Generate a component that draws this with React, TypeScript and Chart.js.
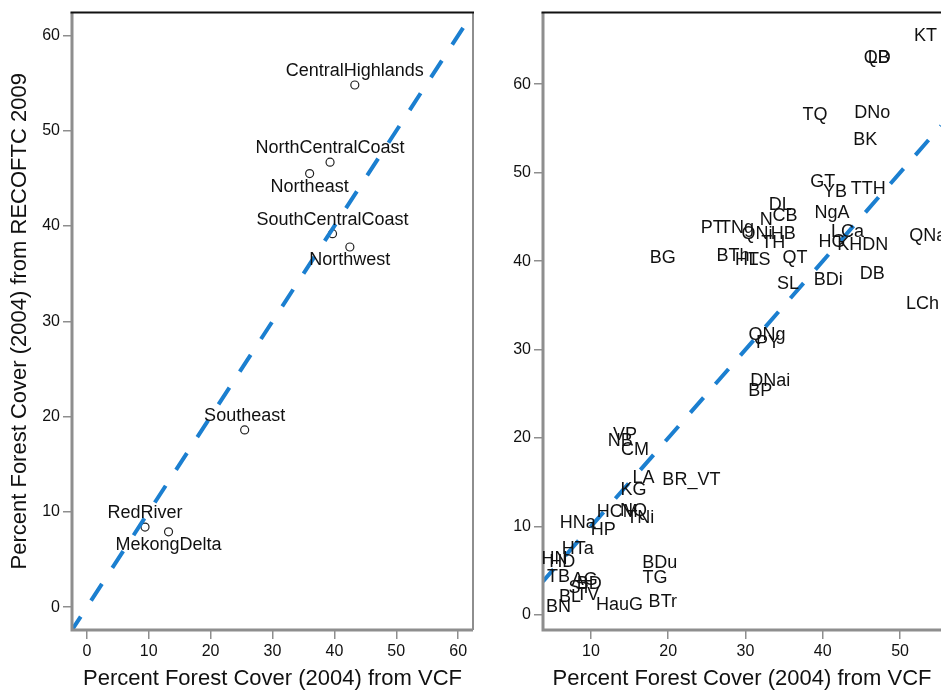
import React, { useEffect, useRef } from 'react';
import { Chart, registerables } from 'chart.js';
Chart.register(...registerables);

const FONT = '"Liberation Sans", Arial, Helvetica, sans-serif';

// ---- Left panel: regions ----
const regionNames = ['CentralHighlands', 'NorthCentralCoast', 'Northeast', 'SouthCentralCoast', 'Northwest', 'Southeast', 'RedRiver', 'MekongDelta'];
const regionVCF = [43.3, 39.3, 36.0, 39.7, 42.5, 25.5, 9.4, 13.2];
const regionRECOFTC = [54.8, 46.7, 45.5, 39.2, 37.8, 18.6, 8.4, 7.9];
const regionLabelSide = ['above', 'above', 'below', 'above', 'below', 'above', 'above', 'below'];

// ---- Right panel: provinces ----
const provinceNames = [
  'KT', 'QB', 'LD', 'TQ', 'DNo', 'BK', 'GT', 'YB', 'TTH', 'NgA',
  'DL', 'CB', 'N', 'PT', 'TNg', 'QNi', 'HB', 'TH', 'BTh', 'HT',
  'LS', 'QT', 'SL', 'BDi', 'DB', 'LCh', 'QNa', 'LCa', 'HG', 'KH',
  'DN', 'BG', 'QNg', 'PY', 'DNai', 'BP', 'VP', 'NB', 'CM', 'LA',
  'BR_VT', 'KG', 'HCM', 'NQ', 'TNi', 'HNa', 'HP', 'HTa', 'HN', 'HD',
  'TB', 'AG', 'BD', 'ST', 'BL', 'TV', 'BN', 'HauG', 'BDu', 'TG', 'BTr'
];
const provinceVCF = [
  53.3, 47.0, 47.3, 39.0, 46.4, 45.5, 40.0, 41.6, 45.9, 41.2,
  34.5, 35.1, 32.7, 25.7, 28.9, 31.5, 34.9, 33.6, 28.4, 30.2,
  31.8, 36.4, 35.5, 40.7, 46.4, 52.9, 53.6, 43.2, 41.2, 43.5,
  46.8, 19.3, 32.8, 32.9, 33.2, 31.9, 14.4, 13.8, 15.7, 16.8,
  23.0, 15.5, 13.4, 15.5, 16.4, 8.3, 11.6, 8.3, 5.3, 6.3,
  5.8, 9.2, 9.8, 8.6, 7.3, 9.6, 5.8, 13.7, 18.9, 18.3, 19.3
];
const provinceRECOFTC = [
  65.5, 63.0, 63.0, 56.5, 56.7, 53.7, 49.0, 47.8, 48.1, 45.4,
  46.4, 45.1, 44.6, 43.7, 43.7, 43.1, 43.1, 42.1, 40.6, 40.1,
  40.1, 40.3, 37.4, 37.9, 38.5, 35.1, 42.8, 43.3, 42.2, 41.8,
  41.8, 40.3, 31.7, 30.7, 26.5, 25.3, 20.3, 19.7, 18.6, 15.5,
  15.3, 14.1, 11.6, 11.8, 11.0, 10.4, 9.6, 7.5, 6.3, 6.0,
  4.3, 3.9, 3.5, 3.1, 2.0, 2.2, 0.9, 1.1, 5.9, 4.2, 1.5
];

const leftTicks = [0, 10, 20, 30, 40, 50, 60];
const rightXTicks = [10, 20, 30, 40, 50];
const rightYTicks = [0, 10, 20, 30, 40, 50, 60];
const leftRange = [-2.4, 62.4];
const rightXRange = [3.8, 55.3];
const rightYRange = [-1.7, 68.1];

const xTitle = 'Percent Forest Cover (2004) from VCF';
const yTitle = 'Percent Forest Cover (2004) from RECOFTC 2009';

const BLUE = '#1b7fd0';
const TEXT = '#111111';
const AXIS_GRAY = '#8e8e8e';

function makeAxis(range: number[], ticks: number[], fit: (s: any) => void, title?: any) {
  return {
    type: 'linear',
    min: range[0],
    max: range[1],
    afterBuildTicks: (s: any) => { s.ticks = ticks.map((v) => ({ value: v })); },
    afterFit: fit,
    grid: { display: true, drawOnChartArea: false, drawTicks: true, tickLength: 9, color: AXIS_GRAY, lineWidth: 1.5 },
    border: { display: false },
    ticks: { font: { family: FONT, size: 16 }, color: TEXT, padding: 3, maxRotation: 0, autoSkip: false },
    title: title || { display: false },
  };
}

const boxPlugin = (drawRight: boolean) => ({
  id: 'box',
  afterDatasetsDraw(chart: any) {
    const { ctx, chartArea: a } = chart;
    ctx.save();
    ctx.lineCap = 'butt';
    ctx.strokeStyle = AXIS_GRAY;
    ctx.lineWidth = 3;
    ctx.beginPath();
    ctx.moveTo(a.left, a.top); ctx.lineTo(a.left, a.bottom + 1.5);
    ctx.moveTo(a.left - 1.5, a.bottom); ctx.lineTo(a.right, a.bottom);
    ctx.stroke();
    if (drawRight) {
      ctx.lineWidth = 2;
      ctx.beginPath();
      ctx.moveTo(a.right, a.top); ctx.lineTo(a.right, a.bottom);
      ctx.stroke();
    }
    ctx.strokeStyle = '#111';
    ctx.lineWidth = 2;
    ctx.beginPath();
    ctx.moveTo(a.left - 1.5, a.top); ctx.lineTo(a.right + 1, a.top);
    ctx.stroke();
    ctx.restore();
  },
});

const regionLabelPlugin = {
  id: 'regionLabels',
  afterDatasetsDraw(chart: any) {
    const meta = chart.getDatasetMeta(1);
    const ctx = chart.ctx;
    ctx.save();
    ctx.font = `18px ${FONT}`;
    ctx.fillStyle = TEXT;
    ctx.textAlign = 'center';
    ctx.textBaseline = 'middle';
    meta.data.forEach((el: any, i: number) => {
      const dy = regionLabelSide[i] === 'above' ? -14 : 13.5;
      ctx.fillText(regionNames[i], el.x, el.y + dy);
    });
    ctx.restore();
  },
};

const provinceLabelPlugin = {
  id: 'provinceLabels',
  afterDatasetsDraw(chart: any) {
    const meta = chart.getDatasetMeta(1);
    const ctx = chart.ctx;
    ctx.save();
    ctx.font = `18px ${FONT}`;
    ctx.fillStyle = TEXT;
    ctx.textAlign = 'center';
    ctx.textBaseline = 'middle';
    meta.data.forEach((el: any, i: number) => {
      ctx.fillText(provinceNames[i], el.x, el.y);
    });
    ctx.restore();
  },
};

function LeftChart() {
  const ref = useRef<HTMLCanvasElement>(null);
  useEffect(() => {
    const chart = new Chart(ref.current as HTMLCanvasElement, {
      type: 'scatter',
      data: {
        datasets: [
          {
            type: 'line',
            data: leftRange.map((v) => ({ x: v, y: v })),
            borderColor: BLUE,
            borderWidth: 4,
            borderDash: [20, 19],
            borderDashOffset: 4,
            pointRadius: 0,
            fill: false,
          } as any,
          {
            data: regionVCF.map((x, i) => ({ x, y: regionRECOFTC[i] })),
            pointRadius: 4,
            pointBorderWidth: 1.2,
            pointBorderColor: '#222',
            pointBackgroundColor: '#fff',
          },
        ],
      },
      options: {
        animation: false,
        responsive: false,
        events: [],
        layout: { autoPadding: false, padding: { top: 10, right: 12, left: 0, bottom: 0 } },
        plugins: { legend: { display: false }, tooltip: { enabled: false } },
        scales: {
          x: makeAxis(leftRange, leftTicks, (s: any) => { s.height = 63; }, {
            display: true, text: xTitle, color: TEXT, font: { family: FONT, size: 22 }, padding: { top: 0, bottom: 1 },
          }),
          y: makeAxis(leftRange, leftTicks, (s: any) => { s.width = 72; }, {
            display: true, text: yTitle, color: TEXT, font: { family: FONT, size: 22 }, padding: { top: 7, bottom: 0 },
          }),
        },
      } as any,
      plugins: [boxPlugin(true), regionLabelPlugin],
    });
    return () => chart.destroy();
  }, []);
  return <canvas ref={ref} width={485} height={693} style={{ position: 'absolute', left: 0, top: 0 }} />;
}

function RightChart() {
  const ref = useRef<HTMLCanvasElement>(null);
  useEffect(() => {
    const chart = new Chart(ref.current as HTMLCanvasElement, {
      type: 'scatter',
      data: {
        datasets: [
          {
            type: 'line',
            data: rightXRange.map((v) => ({ x: v, y: v })),
            borderColor: BLUE,
            borderWidth: 4,
            borderDash: [20, 18],
            borderDashOffset: 4,
            pointRadius: 0,
            fill: false,
          } as any,
          {
            data: provinceVCF.map((x, i) => ({ x, y: provinceRECOFTC[i] })),
            pointRadius: 0,
          },
        ],
      },
      options: {
        animation: false,
        responsive: false,
        events: [],
        layout: { autoPadding: false, padding: { top: 10, right: 0, left: 0, bottom: 0 } },
        plugins: { legend: { display: false }, tooltip: { enabled: false } },
        scales: {
          x: makeAxis(rightXRange, rightXTicks, (s: any) => { s.height = 63; }, {
            display: true, text: xTitle, color: TEXT, font: { family: FONT, size: 22 }, padding: { top: 0, bottom: 1 },
          }),
          y: makeAxis(rightYRange, rightYTicks, (s: any) => { s.width = 58; }),
        },
      } as any,
      plugins: [boxPlugin(false), provinceLabelPlugin],
    });
    return () => chart.destroy();
  }, []);
  return <canvas ref={ref} width={456} height={693} style={{ position: 'absolute', left: 485, top: 0 }} />;
}

export default function App() {
  return (
    <div style={{ position: 'fixed', left: 0, top: 0, width: 941, height: 693, overflow: 'hidden', background: '#fff' }}>
      <LeftChart />
      <RightChart />
    </div>
  );
}
